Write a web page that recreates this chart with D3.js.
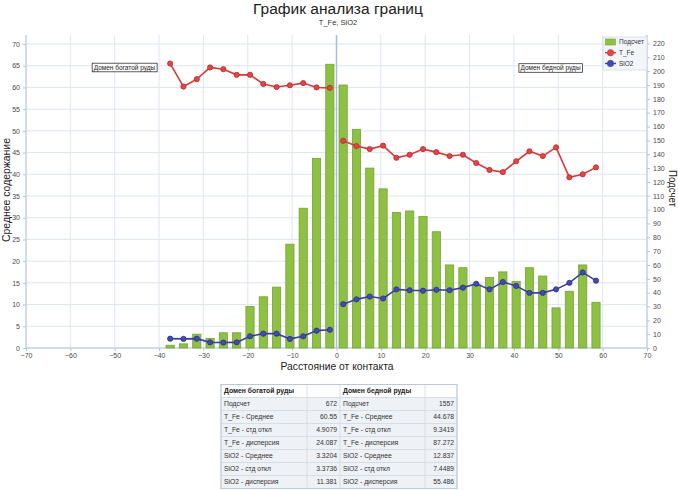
<!DOCTYPE html>
<html><head><meta charset="utf-8">
<script src="https://cdn.jsdelivr.net/npm/d3@7"></script>
<style>
body{margin:0;background:#fff;}
svg{display:block;font-family:"Liberation Sans",Arial,sans-serif;}
</style>
</head><body>
<svg id="c" width="678" height="490"></svg>
<script>
// ---- data ----
const richX     = [-37.5,-34.5,-31.5,-28.5,-25.5,-22.5,-19.5,-16.5,-13.5,-10.5,-7.5,-4.5,-1.5];
const richCount = [2,3,10,7,11,11,30,37,44,75,101,137,205];
const richTFe   = [65.5,60.2,61.9,64.6,64.2,62.9,62.9,60.8,60.1,60.5,61.0,60.0,59.9];
const richSiO2  = [2.15,2.1,2.15,1.3,1.25,1.3,2.7,3.3,3.3,2.1,2.7,4.0,4.2];

const poorX     = [1.5,4.5,7.5,10.5,13.5,16.5,19.5,22.5,25.5,28.5,31.5,34.5,37.5,40.5,43.5,46.5,49.5,52.5,55.5,58.5];
const poorCount = [190,158,130,115,98,99,95,84,60,58,46,51,55,48,58,52,29,41,60,33];
const poorTFe   = [47.7,46.5,45.8,46.6,43.8,44.5,45.8,45.1,44.2,44.5,42.6,41.0,40.5,43.0,45.3,44.2,46.2,39.3,40.0,41.6];
const poorSiO2  = [10.1,11.2,11.85,11.4,13.5,13.3,13.2,13.4,13.3,13.9,14.8,13.5,15.2,14.3,12.7,12.7,13.5,15.0,17.4,15.5];

const xTicks  = [-70,-60,-50,-40,-30,-20,-10,0,10,20,30,40,50,60,70];
const yLTicks = [0,5,10,15,20,25,30,35,40,45,50,55,60,65,70];
const yRTicks = [0,10,20,30,40,50,60,70,80,90,100,110,120,130,140,150,160,170,180,190,200,210,220];

const tableHeaders = ["Домен богатой руды","Домен бедной руды"];
const statLabels = ["Подсчет","T_Fe - Среднее","T_Fe - стд откл","T_Fe - дисперсия","SiO2 - Среднее","SiO2 - стд откл","SiO2 - дисперсия"];
const richStats = ["672","60.55","4.9079","24.087","3.3204","3.3736","11.381"];
const poorStats = ["1557","44.678","9.3419","87.272","12.837","7.4489","55.486"];

const legendNames = ["Подсчет","T_Fe","SiO2"];

// ---- layout ----
const svg = d3.select("#c");
const L = 26, R = 647, B = 348, T = 35;
const x  = d3.scaleLinear().domain([-70,70]).range([L,R]);
const yL = d3.scaleLinear().domain([0,70]).range([B,44]);
const yR = d3.scaleLinear().domain([0,220]).range([B,43.5]);

const gridC = "#dde6f1", axisC = "#b3c5dc", txtC = "#4a4a4a";

// grid
svg.append("g").selectAll("line").data(xTicks).join("line")
  .attr("x1",d=>x(d)).attr("x2",d=>x(d)).attr("y1",T).attr("y2",B)
  .attr("stroke",gridC).attr("stroke-width",1);
svg.append("g").selectAll("line").data(yLTicks).join("line")
  .attr("x1",L).attr("x2",R).attr("y1",d=>yL(d)).attr("y2",d=>yL(d))
  .attr("stroke",gridC).attr("stroke-width",1);

// axes lines
svg.append("line").attr("x1",L).attr("x2",L).attr("y1",T).attr("y2",B).attr("stroke",axisC);
svg.append("line").attr("x1",R).attr("x2",R).attr("y1",T).attr("y2",B).attr("stroke",axisC);
svg.append("line").attr("x1",L).attr("x2",R).attr("y1",B).attr("y2",B).attr("stroke",axisC);

function styleAxis(g){
  g.select(".domain").remove();
  g.selectAll(".tick line").attr("stroke",axisC);
  g.selectAll(".tick text").attr("fill",txtC).style("font-size","7px").style("font-family","'Liberation Sans',Arial,sans-serif");
}
svg.append("g").attr("transform",`translate(${L},0)`)
  .call(d3.axisLeft(yL).tickValues(yLTicks).tickSize(3).tickPadding(3)).call(styleAxis);
svg.append("g").attr("transform",`translate(${R},0)`)
  .call(d3.axisRight(yR).tickValues(yRTicks).tickSize(3).tickPadding(3)).call(styleAxis);
svg.append("g").attr("transform",`translate(0,${B})`)
  .call(d3.axisBottom(x).tickValues(xTicks).tickSize(3).tickPadding(2)).call(styleAxis);

// contact line
svg.append("line").attr("x1",x(0)).attr("x2",x(0)).attr("y1",T).attr("y2",B)
  .attr("stroke","#a9bdd8").attr("stroke-width",1.5);

// bars
const bw = x(1.85)-x(0);
const barsData = richX.map((d,i)=>({x:d,c:richCount[i]})).concat(poorX.map((d,i)=>({x:d,c:poorCount[i]})));
svg.append("g").selectAll("rect").data(barsData).join("rect")
  .attr("x",d=>x(d.x)-bw/2).attr("width",bw)
  .attr("y",d=>yR(d.c)).attr("height",d=>B-yR(d.c))
  .attr("fill","#8dc043").attr("stroke","#74a334").attr("stroke-width",0.8);

// lines
function series(xs, ys, color, fill, stroke){
  const pts = xs.map((d,i)=>[x(d), yL(ys[i])]);
  svg.append("path").attr("d",d3.line()(pts)).attr("fill","none")
    .attr("stroke",color).attr("stroke-width",1.6);
  svg.append("g").selectAll("circle").data(pts).join("circle")
    .attr("cx",d=>d[0]).attr("cy",d=>d[1]).attr("r",2.6)
    .attr("fill",fill).attr("stroke",stroke).attr("stroke-width",0.8);
}
series(richX, richTFe, "#d83a3a", "#e04646", "#b52a2a");
series(poorX, poorTFe, "#d83a3a", "#e04646", "#b52a2a");
series(richX, richSiO2, "#3a3fa6", "#4349b5", "#2b2f86");
series(poorX, poorSiO2, "#3a3fa6", "#4349b5", "#2b2f86");

// annotation boxes
function ann(xc, yc, text){
  const g = svg.append("g");
  const box = g.append("rect");
  const t = g.append("text").attr("x",xc).attr("y",yc+2.3).attr("text-anchor","middle")
    .attr("fill","#222").style("font-size","6.5px").text(text);
  const bb = t.node().getBBox();
  box.attr("x",bb.x-1.5).attr("y",yc-4.3).attr("width",bb.width+3).attr("height",8.6)
    .attr("fill","#fff").attr("stroke","#333").attr("stroke-width",0.8);
}
ann(124.5, 67.5, "Домен богатой руды");
ann(550.5, 68, "Домен бедной руды");

// legend
const lg = svg.append("g");
lg.append("rect").attr("x",603).attr("y",37).attr("width",44).attr("height",33)
  .attr("fill","#f2f5f9").attr("stroke","#d3dce8").attr("stroke-width",0.8);
lg.append("rect").attr("x",605.5).attr("y",39).attr("width",10).attr("height",6)
  .attr("fill","#8dc043").attr("stroke","#74a334").attr("stroke-width",0.6);
[["#d83a3a","#e04646",52.7],["#3a3fa6","#4349b5",63.5]].forEach(([c,f,yy])=>{
  lg.append("line").attr("x1",605).attr("x2",616).attr("y1",yy).attr("y2",yy).attr("stroke",c).attr("stroke-width",1.4);
  lg.append("circle").attr("cx",610.5).attr("cy",yy).attr("r",3.2).attr("fill",f).attr("stroke",c).attr("stroke-width",0.6);
});
lg.selectAll("text").data(legendNames).join("text")
  .attr("x",619).attr("y",(d,i)=>[44.3,55,65.8][i])
  .attr("fill","#333").style("font-size","6.5px").text(d=>d);

// titles
svg.append("text").attr("x",338).attr("y",13.5).attr("text-anchor","middle")
  .attr("fill","#222").style("font-size","15.5px").text("График анализа границ");
svg.append("text").attr("x",338).attr("y",24.5).attr("text-anchor","middle")
  .attr("fill","#333").style("font-size","7.5px").text("T_Fe, SiO2");
svg.append("text").attr("x",337).attr("y",370).attr("text-anchor","middle")
  .attr("fill","#222").style("font-size","11.5px")
  .attr("textLength",113).attr("lengthAdjust","spacingAndGlyphs").text("Расстояние от контакта");
svg.append("text").attr("transform","translate(9.5,190) rotate(-90)").attr("text-anchor","middle")
  .attr("fill","#222").style("font-size","11.5px")
  .attr("textLength",104).attr("lengthAdjust","spacingAndGlyphs").text("Среднее содержание");
svg.append("text").attr("transform","translate(668.5,188.5) rotate(90)").attr("text-anchor","middle")
  .attr("fill","#222").style("font-size","11px")
  .attr("textLength",37).attr("lengthAdjust","spacingAndGlyphs").text("Подсчет");

// table
const colX = [221,307,340,425,457];
const rowH = 13, top0 = 384.5;
const tg = svg.append("g");
const nRows = statLabels.length + 1;
for(let r=0;r<nRows;r++){
  tg.append("rect").attr("x",colX[0]).attr("y",top0+r*rowH).attr("width",colX[4]-colX[0]).attr("height",rowH)
    .attr("fill", r===0 ? "#ffffff" : "#eef1f5").attr("stroke","#d2dae5").attr("stroke-width",0.8);
}
colX.slice(1,4).forEach(cx=>{
  tg.append("line").attr("x1",cx).attr("x2",cx).attr("y1",top0).attr("y2",top0+nRows*rowH)
    .attr("stroke","#d2dae5").attr("stroke-width",0.8);
});
tg.append("rect").attr("x",colX[0]).attr("y",top0).attr("width",colX[4]-colX[0]).attr("height",nRows*rowH)
  .attr("fill","none").attr("stroke","#b9c8da").attr("stroke-width",1);
[0,2].forEach((c,k)=>{
  tg.append("text").attr("x",colX[c]+3).attr("y",top0+rowH/2+2.4)
    .attr("fill","#222").style("font-size","6.8px").style("font-weight","bold").text(tableHeaders[k]);
});
const rowsData = statLabels.map((l,i)=>({l, a:richStats[i], b:poorStats[i], i}));
rowsData.forEach(d=>{
  const yy = top0 + (d.i+1)*rowH + rowH/2 + 2.4;
  tg.append("text").attr("x",colX[0]+3).attr("y",yy).attr("fill","#333").style("font-size","6.8px").text(d.l);
  tg.append("text").attr("x",colX[2]-3).attr("y",yy).attr("text-anchor","end").attr("fill","#333").style("font-size","6.8px").text(d.a);
  tg.append("text").attr("x",colX[2]+3).attr("y",yy).attr("fill","#333").style("font-size","6.8px").text(d.l);
  tg.append("text").attr("x",colX[4]-3).attr("y",yy).attr("text-anchor","end").attr("fill","#333").style("font-size","6.8px").text(d.b);
});
</script>
</body></html>
